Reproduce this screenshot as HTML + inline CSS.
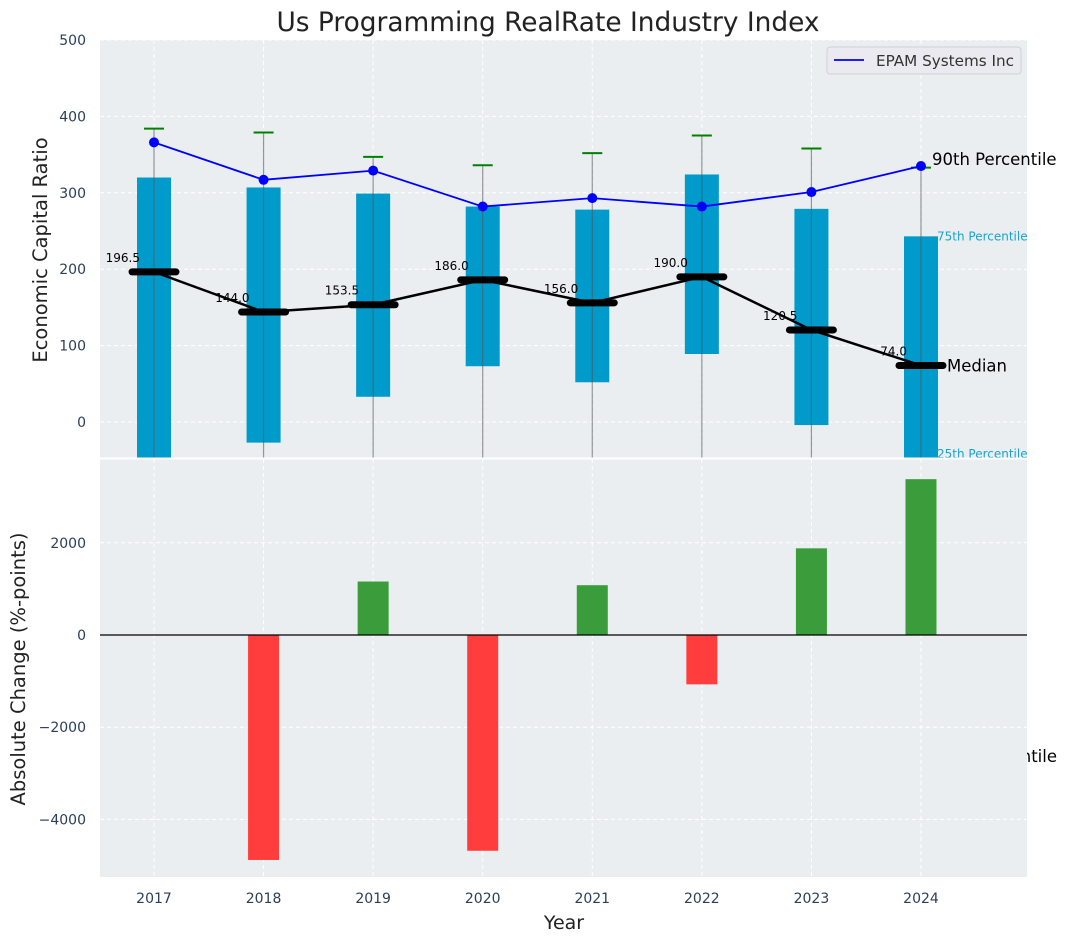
<!DOCTYPE html>
<html><head><meta charset="utf-8"><style>
body{margin:0;background:#fff;}
svg{display:block;font-family:"DejaVu Sans","Liberation Sans",sans-serif;}
</style></head><body>
<svg id="chart" width="1067" height="942" viewBox="0 0 1067 942"></svg>
<script>
const years = [2017, 2018, 2019, 2020, 2021, 2022, 2023, 2024];
const p25 = [-60, -27, 33, 73, 52, 89, -4, -60];
const p75 = [320, 307, 299, 282, 278, 324, 279, 243];
const p90 = [384, 379, 347, 336, 352, 375, 358, 333];
const medians = [196.5, 144.0, 153.5, 186.0, 156.0, 190.0, 120.5, 74.0];
const epam = [366, 317, 329, 282, 293, 282, 301, 335];
const changes = [0, -4880, 1160, -4680, 1080, -1070, 1880, 3380];
const topTicks = [0, 100, 200, 300, 400, 500];
const botTicks = [-4000, -2000, 0, 2000];

const NS = "http://www.w3.org/2000/svg";
const svg = document.getElementById('chart');
function el(tag, attrs, parent) {
  const e = document.createElementNS(NS, tag);
  for (const k in attrs) e.setAttribute(k, attrs[k]);
  (parent || svg).appendChild(e);
  return e;
}
const L = 100, R = 1027, T1 = 40, B1 = 458, T2 = 459, B2 = 877;
const x = yr => 154 + (yr - 2017) * 109.57;
const y1 = v => 422 - v * 0.764;
const y2 = v => 635 - v * 0.0461;

let t = el('text', {x: 1057, y: 762, 'text-anchor': 'end', 'font-size': 16.5, fill: '#000'});


t.textContent = '25th Percentile';

let bg1 = el('rect', {x: L, y: T1, width: R - L, height: B1 - T1, fill: '#eaeef0'});


let bg2 = el('rect', {x: L, y: T2, width: R - L, height: B2 - T2, fill: '#eaeef0'});



el('defs', {}).innerHTML = '<clipPath id="c1"><rect x="100" y="40" width="927" height="418"/></clipPath><clipPath id="c2"><rect x="100" y="459" width="927" height="418"/></clipPath>';
const g1 = el('g', {'clip-path': 'url(#c1)'});
const g2 = el('g', {'clip-path': 'url(#c2)'});

years.forEach(yr => {
  el('line', {x1: x(yr), x2: x(yr), y1: T1, y2: B1, stroke: '#fff', 'stroke-dasharray': '4,3', 'stroke-width': 1}, g1);
  el('line', {x1: x(yr), x2: x(yr), y1: T2, y2: B2, stroke: '#fff', 'stroke-dasharray': '4,3', 'stroke-width': 1}, g2);
  let tl = el('text', {x: x(yr), y: 903, 'text-anchor': 'middle', 'font-size': 14, fill: '#2a3f5a'});
  
  
  tl.textContent = yr;
});
topTicks.forEach(v => {
  el('line', {x1: L, x2: R, y1: y1(v), y2: y1(v), stroke: '#fff', 'stroke-dasharray': '4,3'}, g1);
  let tl = el('text', {x: 86, y: y1(v) + 5, 'text-anchor': 'end', 'font-size': 14, fill: '#2a3f5a'});
  
  
  tl.textContent = v;
});
botTicks.forEach(v => {
  el('line', {x1: L, x2: R, y1: y2(v), y2: y2(v), stroke: '#fff', 'stroke-dasharray': '4,3'}, g2);
  let tl = el('text', {x: 86, y: y2(v) + 5, 'text-anchor': 'end', 'font-size': 14, fill: '#2a3f5a'});
  
  
  tl.textContent = v < 0 ? '\u2212' + Math.abs(v) : v;
});

years.forEach((yr, i) => {
  let b = el('rect', {x: x(yr) - 17, y: y1(p75[i]), width: 34, height: y1(p25[i]) - y1(p75[i]), fill: '#009bcb'}, g1);
  
  
  let w = el('line', {x1: x(yr), x2: x(yr), y1: y1(p90[i]), y2: B1, stroke: '#555', 'stroke-opacity': 0.6, 'stroke-width': 1.2}, g1);
  
  
  let c = el('line', {x1: x(yr) - 10, x2: x(yr) + 10, y1: y1(p90[i]), y2: y1(p90[i]), stroke: 'green', 'stroke-width': 2}, g1);
  
  
});
let mp = el('polyline', {points: years.map((yr, i) => x(yr) + ',' + y1(medians[i])).join(' '), fill: 'none', stroke: '#000', 'stroke-width': 2.5}, g1);


years.forEach((yr, i) => {
  let m = el('line', {x1: x(yr) - 22, x2: x(yr) + 22, y1: y1(medians[i]), y2: y1(medians[i]), stroke: '#000', 'stroke-width': 7, 'stroke-linecap': 'round'}, g1);
  
  
  let ml = el('text', {x: x(yr) - 14, y: y1(medians[i]) - 10, 'text-anchor': 'end', 'font-size': 12, fill: '#000'}, g1);
  
  
  ml.textContent = medians[i].toFixed(1);
});
let ep = el('polyline', {points: years.map((yr, i) => x(yr) + ',' + y1(epam[i])).join(' '), fill: 'none', stroke: '#0000ff', 'stroke-width': 1.8}, g1);


years.forEach((yr, i) => {
  let d = el('circle', {cx: x(yr), cy: y1(epam[i]), r: 5, fill: '#0000ff'}, g1);
  
  
});
const last = years.length - 1;
[['90th Percentile', x(years[last]) + 11, y1(epam[last]) - 1, 16.5, '#000', 'annotation-90th'],
 ['Median', x(years[last]) + 26, y1(medians[last]) + 6, 16.5, '#000', 'annotation-median'],
 ['75th Percentile', x(years[last]) + 16, y1(p75[last]) + 4, 12, '#1aa3d0', 'annotation-75th'],
 ['25th Percentile', x(years[last]) + 16, 458, 12, '#1aa3d0', 'annotation-25th']].forEach(a => {
  let tt = el('text', {x: a[1], y: a[2], 'font-size': a[3], fill: a[4]});
  
  
  tt.textContent = a[0];
});

years.forEach((yr, i) => {
  if (!changes[i]) return;
  const v = changes[i];
  let b = el('rect', {x: x(yr) - 15.5, y: Math.min(y2(v), y2(0)), width: 31, height: Math.abs(y2(v) - y2(0)), fill: v > 0 ? '#3a9c3a' : '#ff3d3d'}, g2);
  
  
});
let zl = el('line', {x1: L, x2: R, y1: y2(0), y2: y2(0), stroke: '#000', 'stroke-width': 1.2});


el('line', {x1: L, x2: R, y1: 458.5, y2: 458.5, stroke: '#fff', 'stroke-width': 2});

const lg = el('g', {});


el('rect', {x: 827, y: 47, width: 194, height: 27, rx: 3, fill: '#eaeaf0', stroke: '#d0d0d8'}, lg);
el('line', {x1: 834, x2: 864, y1: 60, y2: 60, stroke: '#0000ff', 'stroke-width': 1.8}, lg);
let lt = el('text', {x: 876, y: 66, 'font-size': 15.2, fill: '#333'}, lg);


lt.textContent = 'EPAM Systems Inc';

let ti = el('text', {x: 548, y: 31, 'text-anchor': 'middle', 'font-size': 26.4, fill: '#222'});


ti.textContent = 'Us Programming RealRate Industry Index';
let yt1 = el('text', {x: 0, y: 0, transform: 'translate(47,250) rotate(-90)', 'text-anchor': 'middle', 'font-size': 19.5, fill: '#222'});


yt1.textContent = 'Economic Capital Ratio';
let yt2 = el('text', {x: 0, y: 0, transform: 'translate(25,669) rotate(-90)', 'text-anchor': 'middle', 'font-size': 19.5, fill: '#222'});


yt2.textContent = 'Absolute Change (%-points)';
let xt = el('text', {x: 564, y: 929, 'text-anchor': 'middle', 'font-size': 19, fill: '#222'});


xt.textContent = 'Year';
</script>
</body></html>
